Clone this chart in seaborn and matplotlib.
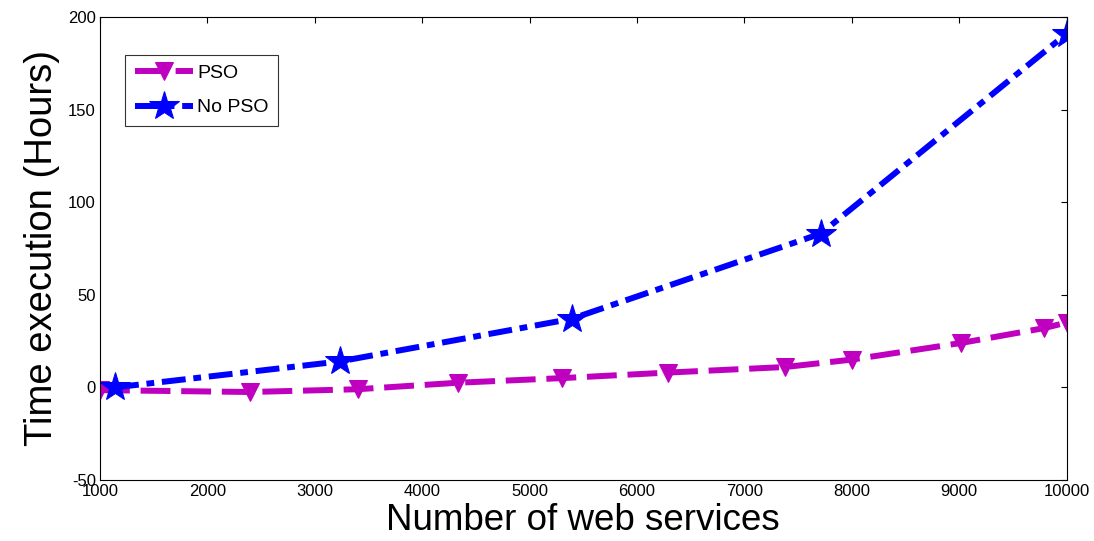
import matplotlib
matplotlib.use("Agg")
import matplotlib.pyplot as plt
import seaborn as sns
import pandas as pd

# PSO series
pso_x = [1000, 2400, 3400, 4330, 5300, 6290, 7380, 8000, 9020, 9790, 10000]
pso_y = [-1.5, -2.5, -1, 2.5, 5, 8, 11, 15, 24, 32, 35]

# No PSO series
nopso_x = [1140, 3230, 5390, 7710, 10000]
nopso_y = [0, 14, 37, 83, 191]

sns.set_theme(style="white")
plt.rcParams['font.family'] = ['Liberation Sans', 'DejaVu Sans']
plt.rcParams['axes.unicode_minus'] = False
plt.rcParams['text.color'] = 'black'
plt.rcParams['axes.labelcolor'] = 'black'

fig = plt.figure(figsize=(10.94, 5.41), dpi=100)
ax = fig.add_axes([0.0914, 0.1128, 0.8836, 0.8558])

df_pso = pd.DataFrame({"x": pso_x, "y": pso_y})
df_no = pd.DataFrame({"x": nopso_x, "y": nopso_y})

sns.lineplot(data=df_pso, x="x", y="y", ax=ax, color="#bf00bf", lw=4.3,
             marker="v", markersize=13, markeredgecolor="#bf00bf",
             label="PSO", sort=False)
sns.lineplot(data=df_no, x="x", y="y", ax=ax, color="#0000ff", lw=4.3,
             marker="*", markersize=22, markeredgecolor="#0000ff",
             label="No PSO", sort=False)
ax.lines[0].set_linestyle((0, (5, 1.8)))
ax.lines[1].set_linestyle((0, (4, 1.3, 1.3, 1.3)))

ax.set_xlim(1000, 10000)
ax.set_ylim(-50, 200)
ax.set_xticks(range(1000, 10001, 1000))
ax.set_yticks(range(-50, 201, 50))
ax.set_xlabel("Number of web services", fontsize=26.5, labelpad=3)
ax.set_ylabel("Time execution (Hours)", fontsize=27.5, labelpad=6)
ax.tick_params(direction="in", length=4, width=0.8, labelsize=12,
               top=True, right=True, colors="black", pad=3)
for s in ax.spines.values():
    s.set_color("black")
    s.set_linewidth(0.8)

leg = ax.legend(loc="upper left", bbox_to_anchor=(0.026, 0.918), fontsize=14,
                frameon=True, fancybox=False, edgecolor="black",
                handlelength=3.0, borderpad=0.5, labelspacing=0.85,
                handletextpad=0.2, borderaxespad=0)
leg.get_frame().set_linewidth(0.8)

fig.savefig("out.png", dpi=100)
